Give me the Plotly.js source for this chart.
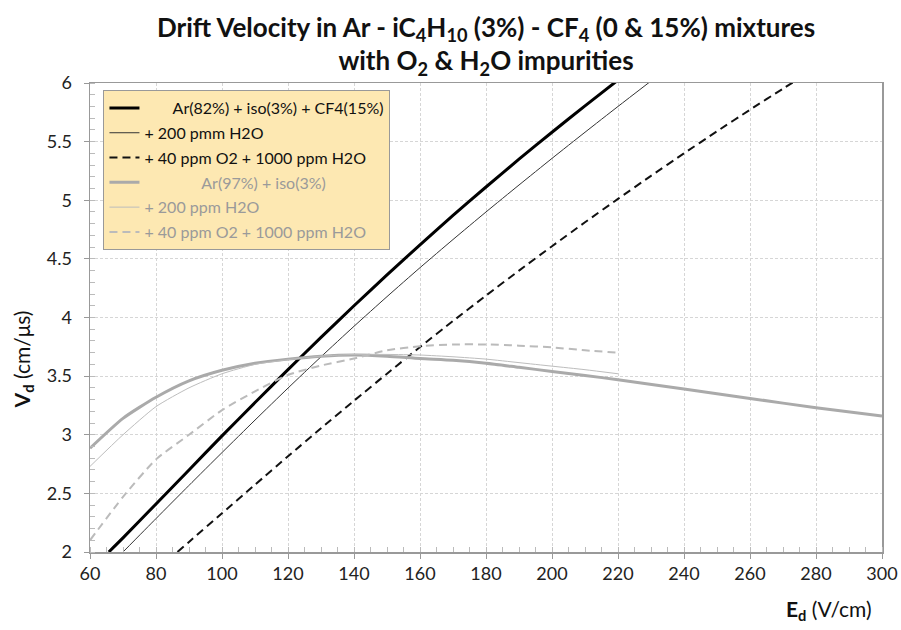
<!DOCTYPE html>
<html>
<head>
<meta charset="utf-8">
<script src="https://cdn.plot.ly/plotly-3.0.1.min.js"></script>
<style>body{margin:0;background:#fff}#chart{width:901px;height:630px}</style>
</head>
<body>
<div id="chart"></div>
<script>
// Ar(82%) + iso(3%) + CF4(15%)
const xA = [65.7,70,80,90,100,110,120,130,140,150,160,170,180,190,200,210,220];
const yA = [2.0,2.12,2.41,2.70,2.99,3.275,3.555,3.83,4.10,4.363,4.62,4.87,5.113,5.35,5.58,5.805,6.025];
// + 200 ppm H2O
const xB = [70,80,90,100,110,120,130,140,150,160,170,180,190,200,210,220,230];
const yB = [2.0,2.285,2.568,2.848,3.125,3.398,3.665,3.925,4.178,4.425,4.665,4.90,5.13,5.357,5.58,5.80,6.017];
// + 40 ppm O2 + 1000 ppm H2O
const xC = [86.5,90,100,110,120,130,140,150,160,170,180,190,200,210,220,230,240,250,260,270,280];
const yC = [2.0,2.086,2.33,2.574,2.816,3.055,3.29,3.521,3.748,3.97,4.187,4.40,4.608,4.812,5.012,5.208,5.40,5.588,5.772,5.952,6.13];
// Ar(97%) + iso(3%)
const xD = [60,70,80,90,100,110,120,130,140,150,160,170,180,190,200,210,220,240,260,280,300];
const yD = [2.885,3.14,3.32,3.46,3.55,3.61,3.645,3.67,3.68,3.67,3.65,3.635,3.61,3.575,3.54,3.505,3.47,3.39,3.31,3.23,3.16];
// + 200 ppm H2O (gray)
const xE = [60,70,80,90,100,110,120,130,140,150,160,170,180,190,200,210,220];
const yE = [2.73,3.0,3.24,3.40,3.52,3.60,3.64,3.67,3.685,3.685,3.68,3.665,3.645,3.615,3.585,3.555,3.52];
// + 40 ppm O2 + 1000 ppm H2O (gray)
const xF = [60,70,80,90,100,110,120,130,140,150,160,170,180,190,200,210,220];
const yF = [2.10,2.47,2.79,3.0,3.21,3.37,3.51,3.59,3.65,3.72,3.755,3.77,3.77,3.76,3.745,3.72,3.70];

const names = [
  '\u00A0\u00A0\u00A0\u00A0\u00A0\u00A0\u00A0Ar(82%) + iso(3%) + CF4(15%)',
  '+ 200 pmm H2O',
  '+ 40 ppm O2 + 1000 ppm H2O',
  '<span style="color:#9a9a9a">\u00A0\u00A0\u00A0\u00A0\u00A0\u00A0\u00A0\u00A0\u00A0\u00A0\u00A0\u00A0\u00A0\u00A0Ar(97%) + iso(3%)</span>',
  '<span style="color:#9a9a9a">+ 200 ppm H2O</span>',
  '<span style="color:#9a9a9a">+ 40 ppm O2 + 1000 ppm H2O</span>'
];

const traces = [
  {x:xA, y:yA, line:{color:'#000', width:3}},
  {x:xB, y:yB, line:{color:'#333', width:1}},
  {x:xC, y:yC, line:{color:'#111', width:2, dash:'8px,5px'}},
  {x:xD, y:yD, line:{color:'#aaaaaa', width:3}},
  {x:xE, y:yE, line:{color:'#bdbdbd', width:1}},
  {x:xF, y:yF, line:{color:'#bbbbbb', width:2, dash:'8px,5px'}}
].map((t,i)=>Object.assign(t,{type:'scatter', mode:'lines', name:names[i], legendgroup:'g'+i, line:Object.assign(t.line,{shape:'spline', smoothing:0.6})}));

const layout = {
  width:901, height:630,
  margin:{l:90, r:19, t:83, b:78},
  paper_bgcolor:'#fff', plot_bgcolor:'#fff',
  font:{family:'Lato, "Open Sans", sans-serif', color:'#222'},
  title:{text:'<b>Drift Velocity in Ar - iC<sub>4</sub>H<sub>10</sub> (3%) - CF<sub>4</sub> (0 &amp; 15%) mixtures<br>with O<sub>2</sub> &amp; H<sub>2</sub>O impurities</b>',
         font:{size:26, color:'#111'}, x:0.5, xref:'paper', xanchor:'center', y:0.942, yref:'container', yanchor:'middle'},
  xaxis:{range:[60,300], dtick:20, tick0:60, showgrid:true, gridcolor:'#d6d6d6', griddash:'3px,2px', gridwidth:1,
         showline:true, linecolor:'#999', linewidth:1.5, mirror:true, zeroline:false,
         ticks:'outside', ticklen:5, tickcolor:'#999', tickfont:{size:18, color:'#222'},
         minor:{dtick:5, ticks:'inside', ticklen:5, tickcolor:'#bbb', showgrid:false}},
  yaxis:{range:[2,6], dtick:0.5, tick0:2, showgrid:true, gridcolor:'#d6d6d6', griddash:'3px,2px', gridwidth:1,
         showline:true, linecolor:'#999', linewidth:1.5, mirror:true, zeroline:false,
         ticks:'outside', ticklen:5, tickcolor:'#999', tickfont:{size:18, color:'#222'}, ticklabelstandoff:8,
         minor:{dtick:0.1, ticks:'inside', ticklen:5, tickcolor:'#bbb', showgrid:false}},
  showlegend:true,
  legend:{x:0.017, xanchor:'left', y:0.985, yanchor:'top', bgcolor:'#fde8b2', bordercolor:'#999', borderwidth:1,
          font:{size:16, color:'#111'}, traceorder:'grouped', tracegroupgap:1, itemwidth:30},
  annotations:[
    {text:'<b>V<sub>d</sub></b> (cm/\u03bcs)', xref:'paper', yref:'paper', x:-0.085, y:0.41, xanchor:'center', yanchor:'middle', textangle:-90, showarrow:false, font:{size:21, color:'#111'}},
    {text:'<b>E<sub>d</sub></b> (V/cm)', xref:'paper', yref:'paper', x:0.99, y:-0.09, xanchor:'right', yanchor:'top', showarrow:false, font:{size:21, color:'#111'}}
  ]
};
Plotly.newPlot('chart', traces, layout, {displayModeBar:false, staticPlot:true});
</script>
</body>
</html>
